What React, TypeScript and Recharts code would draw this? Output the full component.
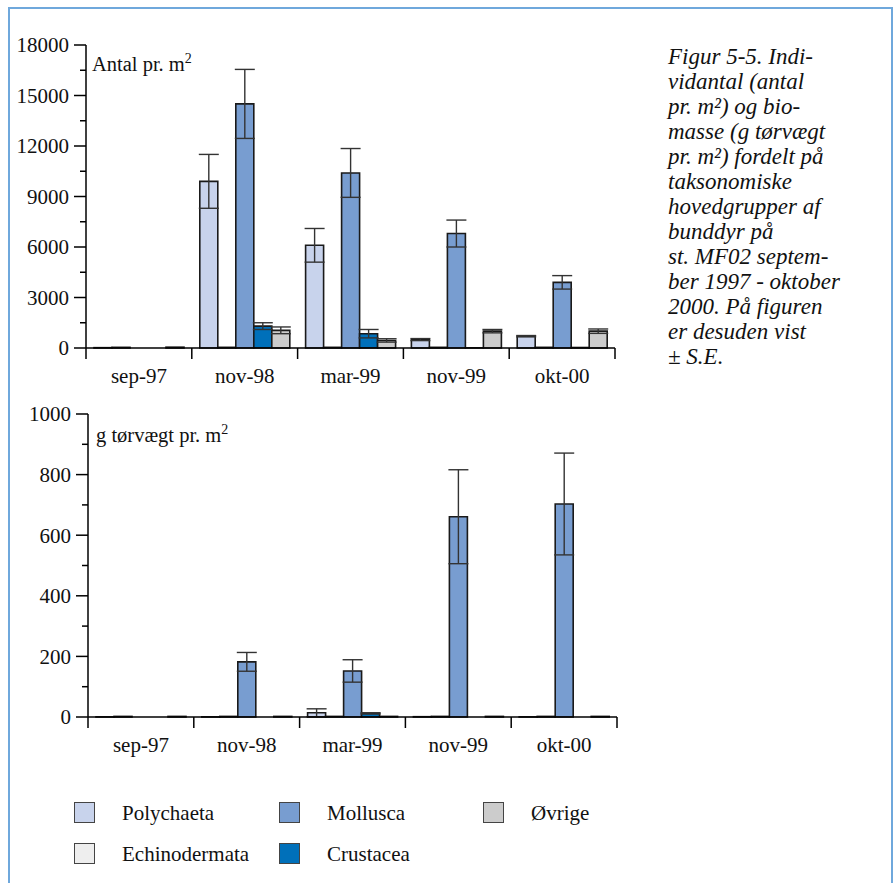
import React from 'react'
import { BarChart, Bar, XAxis, YAxis, ErrorBar } from 'recharts'

const categories = ['sep-97', 'nov-98', 'mar-99', 'nov-99', 'okt-00']

// Antal pr. m2
const antalPolychaeta = [20, 9900, 6100, 500, 700]
const antalPolychaetaSE = [0, 1600, 1000, 60, 40]
const antalEchinodermata = [40, 40, 40, 40, 40]
const antalMollusca = [0, 14500, 10400, 6800, 3900]
const antalMolluscaSE = [0, 2050, 1450, 800, 400]
const antalCrustacea = [0, 1300, 850, 10, 30]
const antalCrustaceaSE = [0, 200, 250, 0, 0]
const antalOvrige = [50, 1050, 450, 1000, 1000]
const antalOvrigeSE = [0, 200, 100, 100, 130]
const antalTicks = [0, 1500, 3000, 4500, 6000, 7500, 9000, 10500, 12000, 13500, 15000, 16500, 18000]

// g tørvægt pr. m2
const bioPolychaeta = [0.5, 0.5, 14, 1, 0.5]
const bioPolychaetaSE = [0, 0, 13, 0, 0]
const bioEchinodermata = [2, 2, 2, 2, 2]
const bioMollusca = [0, 182, 152, 661, 703]
const bioMolluscaSE = [0, 31, 37, 155, 168]
const bioCrustacea = [0, 0, 12, 0, 0]
const bioCrustaceaSE = [0, 0, 2, 0, 0]
const bioOvrige = [2, 2, 2, 2, 2]
const bioTicks = [0, 100, 200, 300, 400, 500, 600, 700, 800, 900, 1000]

const captionLines = [
  'Figur 5-5. Indi-',
  'vidantal (antal',
  'pr. m²) og bio-',
  'masse (g tørvægt',
  'pr. m²) fordelt på',
  'taksonomiske',
  'hovedgrupper af',
  'bunddyr på',
  'st. MF02 septem-',
  'ber 1997 - oktober',
  '2000. På figuren',
  'er desuden vist',
  '± S.E.',
]

const series = [
  { key: 'poly', name: 'Polychaeta', color: '#c8d3ec' },
  { key: 'echi', name: 'Echinodermata', color: '#eeeeee' },
  { key: 'moll', name: 'Mollusca', color: '#789dd0' },
  { key: 'crus', name: 'Crustacea', color: '#0070ba' },
  { key: 'ovr', name: 'Øvrige', color: '#cccccc' },
]

const antalData = categories.map((cat, i) => ({
  cat,
  poly: antalPolychaeta[i], polySE: antalPolychaetaSE[i],
  echi: antalEchinodermata[i], echiSE: 0,
  moll: antalMollusca[i], mollSE: antalMolluscaSE[i],
  crus: antalCrustacea[i], crusSE: antalCrustaceaSE[i],
  ovr: antalOvrige[i], ovrSE: antalOvrigeSE[i],
}))

const bioData = categories.map((cat, i) => ({
  cat,
  poly: bioPolychaeta[i], polySE: bioPolychaetaSE[i],
  echi: bioEchinodermata[i], echiSE: 0,
  moll: bioMollusca[i], mollSE: bioMolluscaSE[i],
  crus: bioCrustacea[i], crusSE: bioCrustaceaSE[i],
  ovr: bioOvrige[i], ovrSE: 0,
}))

const FONT = "'Liberation Serif', Tinos, 'DejaVu Serif', serif"
const PLOT_W = 529

const YTick = (props: any) => {
  const { x, y, payload, major } = props
  const isMajor = payload.value % major === 0
  return (
    <g>
      <line x1={x - (isMajor ? 12 : 6)} y1={y} x2={x} y2={y} stroke="#000" strokeWidth={1.5} />
      {isMajor && (
        <text x={x - 17} y={y} dy="0.355em" textAnchor="end" style={{ fontFamily: FONT }} fontSize={21} fill="#111">
          {payload.value}
        </text>
      )}
    </g>
  )
}

const XTick = (props: any) => {
  const { x, y, payload, index } = props
  const bw = PLOT_W / categories.length
  return (
    <g>
      <line x1={x - bw / 2} y1={y} x2={x - bw / 2} y2={y + 11} stroke="#000" strokeWidth={1.5} />
      {index === categories.length - 1 && (
        <line x1={x + bw / 2} y1={y} x2={x + bw / 2} y2={y + 11} stroke="#000" strokeWidth={1.5} />
      )}
      <text x={x} y={y + 35} textAnchor="middle" style={{ fontFamily: FONT }} fontSize={21} fill="#111">
        {payload.value}
      </text>
    </g>
  )
}

function Panel({ data, ticks, major, max, margin }: any) {
  return (
    <BarChart width={640} height={400} data={data} margin={margin} barGap={0} barCategoryGap={8}
      style={{ fontFamily: FONT }}>
      <XAxis dataKey="cat" tick={<XTick />} tickLine={false} tickSize={0} tickMargin={0} height={40}
        axisLine={{ stroke: '#000', strokeWidth: 1.5 }} />
      <XAxis xAxisId="top" dataKey="cat" orientation="top" tick={false} tickLine={false} height={0}
        axisLine={{ stroke: '#333', strokeWidth: 1 }} />
      <YAxis type="number" domain={[0, max]} ticks={ticks} interval={0} tick={<YTick major={major} />}
        tickLine={false} tickSize={0} tickMargin={0} width={60} axisLine={{ stroke: '#000', strokeWidth: 1.5 }} />
      <YAxis yAxisId="right" orientation="right" type="number" domain={[0, max]} tick={false}
        tickLine={false} width={0} axisLine={{ stroke: '#333', strokeWidth: 1 }} />
      {series.map((s) => (
        <Bar key={s.key} dataKey={s.key} fill={s.color} stroke="#1a1a1a" strokeWidth={1.6} isAnimationActive={false}>
          <ErrorBar dataKey={s.key + 'SE'} width={10} stroke="#333" strokeWidth={1.4} direction="y" />
        </Bar>
      ))}
    </BarChart>
  )
}

export default function App() {
  const legendItems = [
    { s: series[0], x: 74, y: 802 },
    { s: series[2], x: 279, y: 802 },
    { s: series[4], x: 483, y: 802 },
    { s: series[1], x: 74, y: 843 },
    { s: series[3], x: 279, y: 843 },
  ]
  return (
    <div style={{ fontFamily: FONT }}>
      <div style={{
        position: 'absolute', left: 8, top: 7, width: 881, height: 900,
        borderLeft: '2px solid #6fa8dc', borderTop: '2px solid #6fa8dc', borderRight: '2px solid #6fa8dc',
      }} />
      <div style={{ position: 'absolute', left: 0, top: 0 }}>
        <Panel data={antalData} ticks={antalTicks} major={3000} max={18000}
          margin={{ top: 45, right: 25, bottom: 12, left: 26 }} />
      </div>
      <div style={{ position: 'absolute', left: 0, top: 369 }}>
        <Panel data={bioData} ticks={bioTicks} major={200} max={1000}
          margin={{ top: 45, right: 23, bottom: 12, left: 28 }} />
      </div>
      <div style={{ position: 'absolute', left: 92, top: 54, fontSize: 20.5, lineHeight: '20px', color: '#111' }}>
        Antal pr. m<span style={{ fontSize: 14, verticalAlign: 'super', lineHeight: 0 }}>2</span>
      </div>
      <div style={{ position: 'absolute', left: 96, top: 425, fontSize: 20.5, lineHeight: '20px', color: '#111' }}>
        g tørvægt pr. m<span style={{ fontSize: 14, verticalAlign: 'super', lineHeight: 0 }}>2</span>
      </div>
      <div style={{
        position: 'absolute', left: 668, top: 44, fontSize: 23, lineHeight: '25px', fontStyle: 'italic',
        color: '#111', whiteSpace: 'nowrap',
      }}>
        {captionLines.map((l, i) => <div key={i}>{l}</div>)}
      </div>
      {legendItems.map(({ s, x, y }) => (
        <div key={s.key}>
          <div style={{
            position: 'absolute', left: x, top: y, width: 19, height: 19,
            background: s.color, border: '1.5px solid #444',
          }} />
          <div style={{
            position: 'absolute', left: x + 48, top: y, fontSize: 21, lineHeight: '22px', color: '#111',
          }}>{s.name}</div>
        </div>
      ))}
    </div>
  )
}
